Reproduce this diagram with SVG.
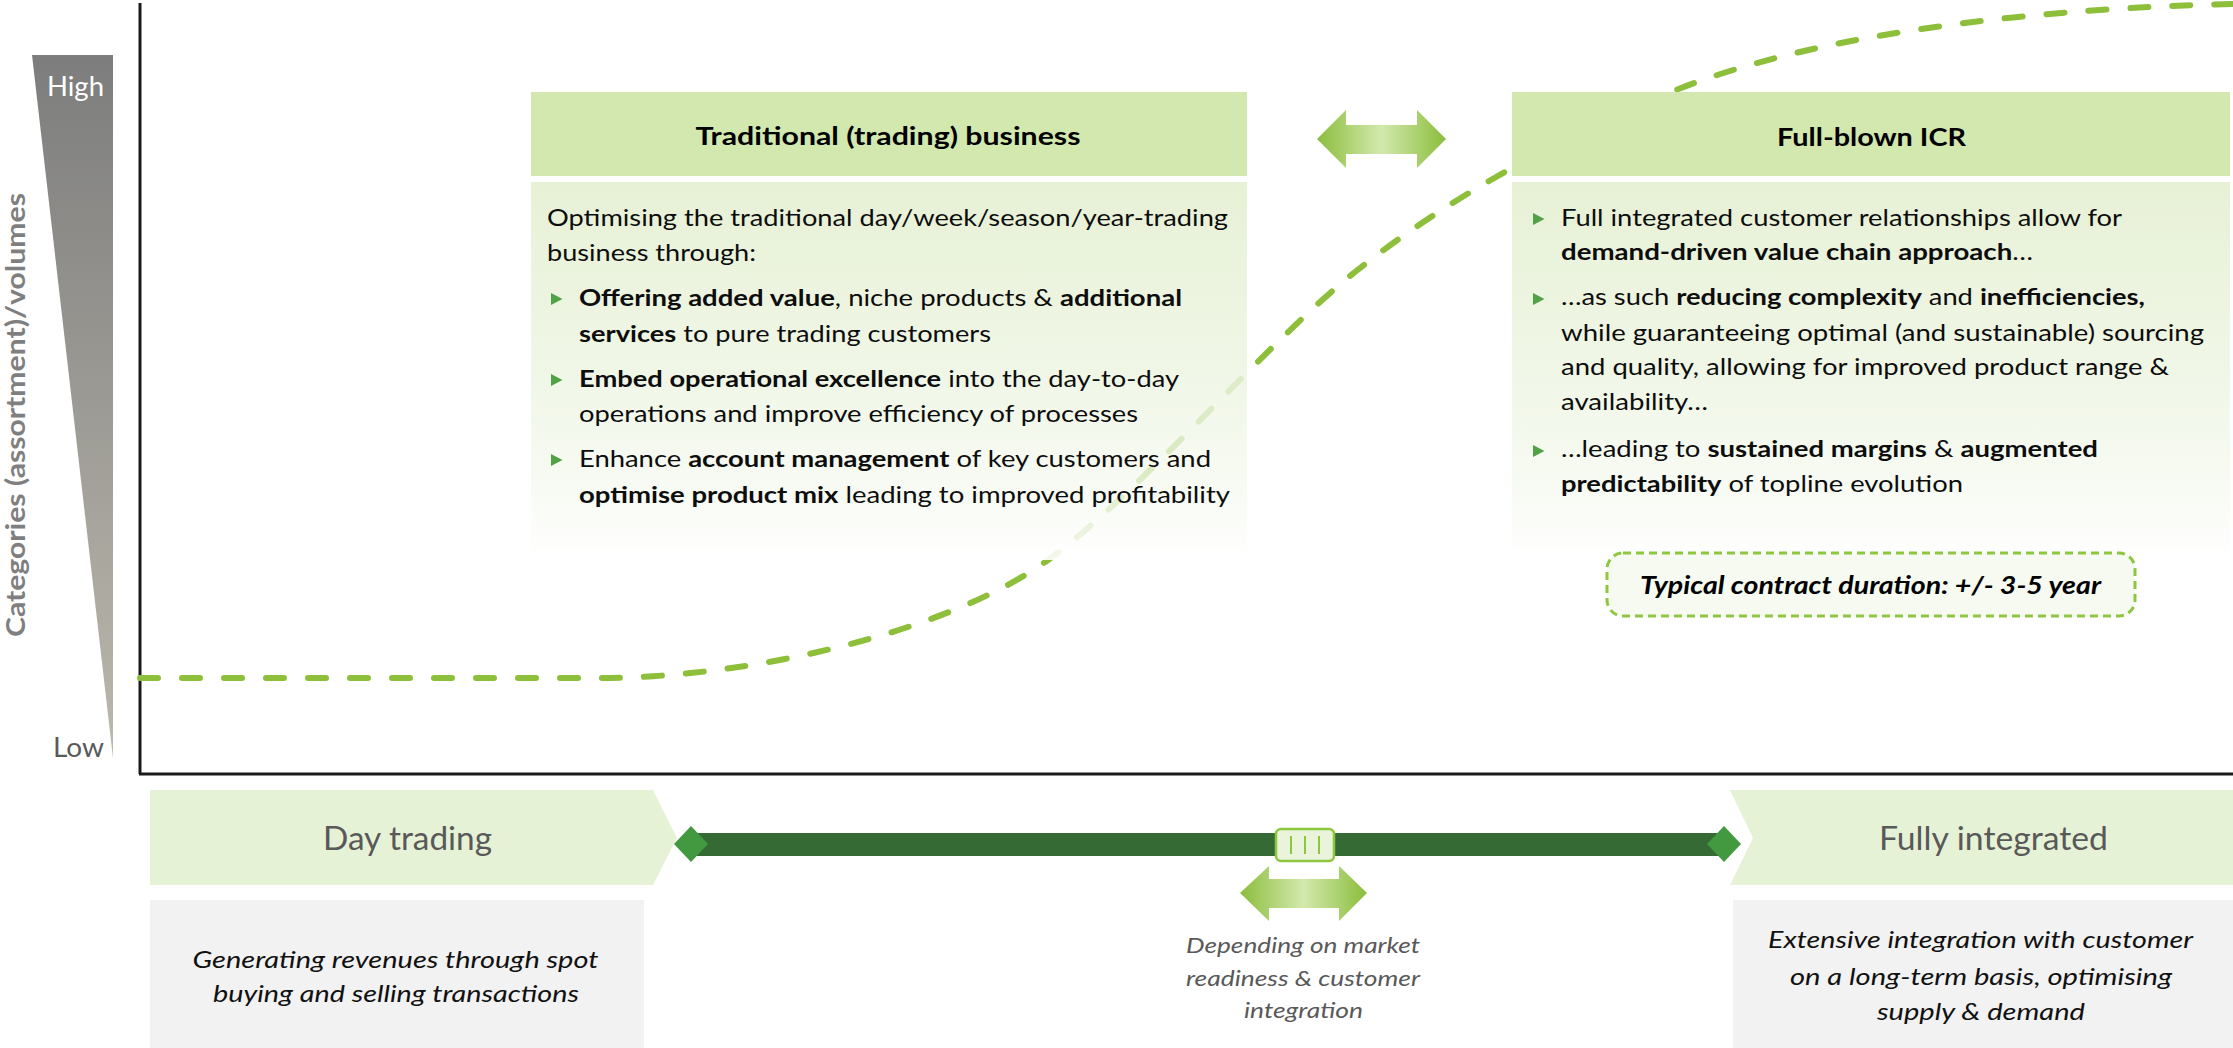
<svg xmlns="http://www.w3.org/2000/svg" width="2233" height="1048" viewBox="0 0 2233 1048">
<defs>
<linearGradient id="gTri" x1="0" y1="0" x2="0" y2="1">
<stop offset="0" stop-color="#7d7d7d"/>
<stop offset="1" stop-color="#bbb8ac"/>
</linearGradient>
<linearGradient id="gBody" x1="0" y1="0" x2="0" y2="1">
<stop offset="0" stop-color="#e7f1d5" stop-opacity="1"/>
<stop offset="0.5" stop-color="#edf5e2" stop-opacity="0.85"/>
<stop offset="0.75" stop-color="#f3f8ec" stop-opacity="0.75"/>
<stop offset="1" stop-color="#ffffff" stop-opacity="0.9"/>
</linearGradient>
<linearGradient id="gArrow" x1="0" y1="0" x2="1" y2="0">
<stop offset="0" stop-color="#8bbd3c"/>
<stop offset="0.5" stop-color="#d3e9ae"/>
<stop offset="1" stop-color="#8bbd3c"/>
</linearGradient>
<style>
text { font-family: Lato, "Open Sans", "Liberation Sans", sans-serif; }
.b { font-weight: bold; }
.body { font-size: 23.5px; fill: #0d0d0d; }
.head { font-size: 25.5px; font-weight: bold; fill: #000; }
.hdr { fill: #d2e8ae; }
.bul { fill: #51a147; }
.chev { fill: #e6f2d6; }
.gray { fill: #f2f2f2; }
.big { font-size: 32px; fill: #595959; }
.it { font-style: italic; font-size: 23px; fill: #111; }
.dep { font-style: italic; font-size: 22px; fill: #595959; }
.arrow { fill: url(#gArrow); }
.dia { fill: #43993f; }
</style>
</defs>
<rect width="2233" height="1048" fill="#ffffff"/>

<g id="y-axis-scale">
<polygon points="32,55 113,55 113,758" fill="url(#gTri)"/>
<text x="47" y="96" font-size="26" fill="#ffffff" textLength="57" lengthAdjust="spacingAndGlyphs">High</text>
<text x="53" y="757" font-size="26" fill="#595959" textLength="51" lengthAdjust="spacingAndGlyphs">Low</text>
<text transform="translate(25,637) rotate(-90)" x="0" y="0" font-size="27" font-weight="bold" fill="#7f7f7f" textLength="444" lengthAdjust="spacingAndGlyphs">Categories (assortment)/volumes</text>
</g>

<g id="axes" stroke="#1a1a1a" stroke-width="3" fill="none">
<line x1="140" y1="3" x2="140" y2="774"/>
<line x1="139" y1="774" x2="2233" y2="774"/>
</g>

<g id="connectors">
<path id="curve" d="M140,678 L600,678 C750,678 948,632 1048,560 C1138,495 1265,344 1355,272 C1455,192 1576,130 1676,90 C1826,30 2050,8 2233,4" fill="none" stroke="#8dbf3b" stroke-width="6" stroke-linecap="round" stroke-dasharray="18 24"/>
<polygon id="top-arrow" class="arrow" points="1317,139 1346,110 1346,125 1417,125 1417,110 1446,139 1417,168 1417,154 1346,154 1346,168"/>
<polygon id="bottom-arrow" class="arrow" points="1240,893 1269,866 1269,879 1339,879 1339,866 1367,893 1339,921 1339,908 1269,908 1269,921"/>
</g>

<g id="traditional">
<rect class="hdr" x="531" y="92" width="716" height="84"/>
<text class="head" x="695.5" y="145" textLength="385" lengthAdjust="spacingAndGlyphs">Traditional (trading) business</text>
<rect x="531" y="182" width="716" height="378" fill="url(#gBody)"/>
<text class="body" x="547" y="226" textLength="681" lengthAdjust="spacingAndGlyphs">Optimising the traditional day/week/season/year-trading</text>
<text class="body" x="547" y="261" textLength="209" lengthAdjust="spacingAndGlyphs">business through:</text>
<polygon class="bul" points="551,293 551,305 562.5,299"/>
<text class="body" x="579" y="306" textLength="603" lengthAdjust="spacingAndGlyphs"><tspan class="b">Offering added value</tspan>, niche products &amp; <tspan class="b">additional</tspan></text>
<text class="body" x="579" y="342" textLength="412" lengthAdjust="spacingAndGlyphs"><tspan class="b">services</tspan> to pure trading customers</text>
<polygon class="bul" points="551,374 551,386 562.5,380"/>
<text class="body" x="579" y="387" textLength="600" lengthAdjust="spacingAndGlyphs"><tspan class="b">Embed operational excellence</tspan> into the day-to-day</text>
<text class="body" x="579" y="422" textLength="559" lengthAdjust="spacingAndGlyphs">operations and improve efficiency of processes</text>
<polygon class="bul" points="551,454 551,466 562.5,460"/>
<text class="body" x="579" y="467" textLength="632" lengthAdjust="spacingAndGlyphs">Enhance <tspan class="b">account management</tspan> of key customers and</text>
<text class="body" x="579" y="503" textLength="651" lengthAdjust="spacingAndGlyphs"><tspan class="b">optimise product mix</tspan> leading to improved profitability</text>
</g>

<g id="full-blown-icr">
<rect class="hdr" x="1512" y="92" width="718" height="84"/>
<text class="head" x="1777" y="146" textLength="189" lengthAdjust="spacingAndGlyphs">Full-blown ICR</text>
<rect x="1512" y="182" width="718" height="378" fill="url(#gBody)"/>
<polygon class="bul" points="1533,213 1533,225 1544.5,219"/>
<text class="body" x="1561" y="226" textLength="561" lengthAdjust="spacingAndGlyphs">Full integrated customer relationships allow for</text>
<text class="body" x="1561" y="260" textLength="472" lengthAdjust="spacingAndGlyphs"><tspan class="b">demand-driven value chain approach</tspan>…</text>
<polygon class="bul" points="1533,293 1533,305 1544.5,299"/>
<text class="body" x="1561" y="305" textLength="584" lengthAdjust="spacingAndGlyphs">…as such <tspan class="b">reducing complexity</tspan> and <tspan class="b">inefficiencies,</tspan></text>
<text class="body" x="1561" y="341" textLength="643" lengthAdjust="spacingAndGlyphs">while guaranteeing optimal (and sustainable) sourcing</text>
<text class="body" x="1561" y="375" textLength="608" lengthAdjust="spacingAndGlyphs">and quality, allowing for improved product range &amp;</text>
<text class="body" x="1561" y="410" textLength="147" lengthAdjust="spacingAndGlyphs">availability…</text>
<polygon class="bul" points="1533,445 1533,457 1544.5,451"/>
<text class="body" x="1561" y="457" textLength="537" lengthAdjust="spacingAndGlyphs">…leading to <tspan class="b">sustained margins</tspan> &amp; <tspan class="b">augmented</tspan></text>
<text class="body" x="1561" y="492" textLength="402" lengthAdjust="spacingAndGlyphs"><tspan class="b">predictability</tspan> of topline evolution</text>
</g>

<g id="contract-duration">
<rect x="1607" y="553" width="528" height="63" rx="16" fill="#f6faf0" stroke="#8dc63f" stroke-width="3" stroke-dasharray="8 5"/>
<text x="1640" y="594" font-size="25" font-weight="bold" font-style="italic" fill="#000" textLength="461" lengthAdjust="spacingAndGlyphs">Typical contract duration: +/- 3-5 year</text>
</g>

<g id="day-trading">
<polygon class="chev" points="150,790 653,790 677,838 653,885 150,885"/>
<text class="big" x="323" y="850" textLength="169" lengthAdjust="spacingAndGlyphs">Day trading</text>
<rect class="gray" x="150" y="900" width="494" height="148"/>
<text class="it" x="192.5" y="968" textLength="406" lengthAdjust="spacingAndGlyphs">Generating revenues through spot</text>
<text class="it" x="213" y="1002" textLength="366" lengthAdjust="spacingAndGlyphs">buying and selling transactions</text>
</g>

<g id="fully-integrated">
<polygon class="chev" points="1730,790 2233,790 2233,885 1730,885 1753,838"/>
<text class="big" x="1879" y="850" textLength="229" lengthAdjust="spacingAndGlyphs">Fully integrated</text>
<rect class="gray" x="1733" y="900" width="500" height="148"/>
<text class="it" x="1768" y="948" textLength="425" lengthAdjust="spacingAndGlyphs">Extensive integration with customer</text>
<text class="it" x="1790" y="985" textLength="382" lengthAdjust="spacingAndGlyphs">on a long-term basis, optimising</text>
<text class="it" x="1877" y="1020" textLength="208" lengthAdjust="spacingAndGlyphs">supply &amp; demand</text>
</g>

<g id="timeline">
<rect x="690" y="833" width="1035" height="23" fill="#356a34"/>
<polygon class="dia" points="674,844 691,826 708,844 691,862"/>
<polygon class="dia" points="1707,844 1724,826 1741,844 1724,862"/>
<rect x="1276" y="829" width="58" height="32" rx="5" fill="#e9f4da" stroke="#8dc63f" stroke-width="2.5"/>
<g stroke="#8dc63f" stroke-width="2">
<line x1="1291" y1="836" x2="1291" y2="854"/>
<line x1="1305" y1="836" x2="1305" y2="854"/>
<line x1="1319" y1="836" x2="1319" y2="854"/>
</g>
</g>

<g id="depending-note">
<text class="dep" x="1186" y="953" textLength="234" lengthAdjust="spacingAndGlyphs">Depending on market</text>
<text class="dep" x="1186" y="986" textLength="234" lengthAdjust="spacingAndGlyphs">readiness &amp; customer</text>
<text class="dep" x="1244" y="1018" textLength="119" lengthAdjust="spacingAndGlyphs">integration</text>
</g>
</svg>
